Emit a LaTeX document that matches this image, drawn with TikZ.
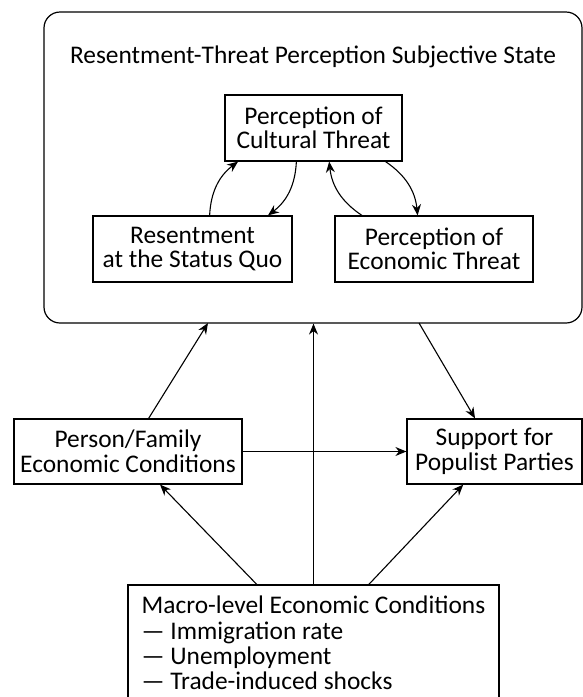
\documentclass[tikz,border=0pt]{standalone}
\usepackage{fontspec}
\setmainfont{Carlito}
\usetikzlibrary{arrows.meta}
\tikzset{
	box/.style={draw, line width=0.6pt, align=center, inner sep=0pt},
	link/.style={->, >={Stealth[length=5.5pt,width=4.5pt]}, line width=0.55pt},
}

\begin{document}
\begin{tikzpicture}[x=0.5pt,y=-0.5pt,font=\fontsize{12.7}{12.3}\selectfont]
	\useasboundingbox (0,0) rectangle (583,697);
	\node[box, rounded corners=8pt, minimum width=269pt, minimum height=155.5pt] (state) at (313,167.5) {};
	\node (title) at (313,57) {Resentment-Threat Perception Subjective State};
	\node[box, minimum width=88.5pt, minimum height=33pt] (cult) at (313.5,128) {Perception of\\Cultural Threat};
	\node[box, minimum width=99.5pt, minimum height=33pt] (res) at (192.5,249) {Resentment\\at the Status Quo};
	\node[box, minimum width=99pt, minimum height=33pt] (eco) at (434,249) {Perception of\\Economic Threat};
	\node[box, minimum width=114pt, minimum height=32.5pt] (pf) at (128,451.5) {Person/Family\\Economic Conditions};
	\node[box, minimum width=87.5pt, minimum height=32.5pt] (sp) at (494.5,451.5) {Support for\\Populist Parties};
	\node[box, minimum width=185.5pt, minimum height=58pt, align=left, font=\fontsize{12.7}{12.7}\selectfont] (macro) at (313.5,643) {Macro-level Economic Conditions\\— Immigration rate\\— Unemployment\\— Trade-induced shocks};
	\coordinate (s1) at (208,323);
	\coordinate (s2) at (419,323);

	\draw[link] (pf) -- (s1);
	\draw[link] (macro) -- (macro |- state.south);
	\draw[link] (s2) -- (sp);
	\draw[link] (pf) -- (sp);
	\draw[link] (macro) -- (pf);
	\draw[link] (macro) -- (sp);
	\draw[link] (res.63) to[bend left=25] (cult.204);
	\draw[link] (cult.243) to[bend left=25] (res.24);
	\draw[link] (eco.155) to[bend left=25] (cult.295);
	\draw[link] (cult.335) to[bend left=25] (eco.116);
\end{tikzpicture}
\end{document}
